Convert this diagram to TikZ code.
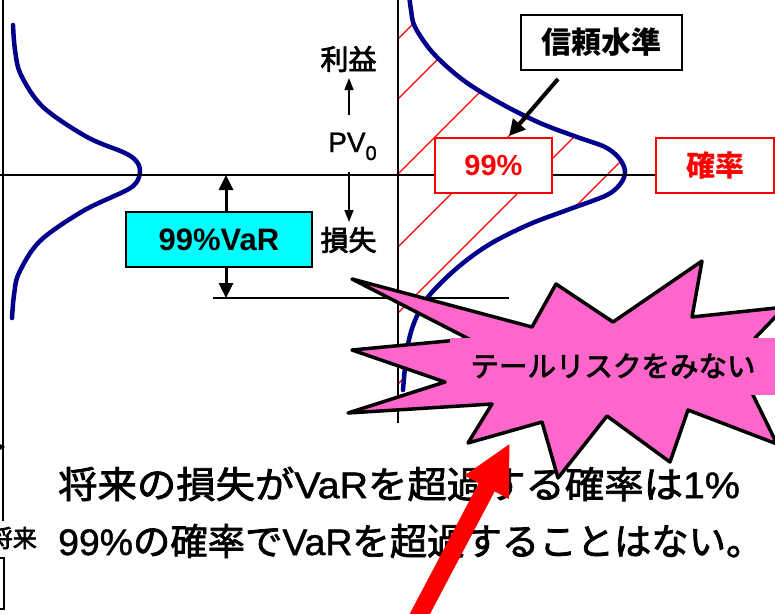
\documentclass[tikz,border=0pt]{standalone}
\usepackage{fontspec}
\setmainfont{Liberation Sans}
\newfontfamily\jp{Noto Sans CJK JP}
\newfontfamily\jpm{Noto Sans CJK JP}[FakeBold=2]
\newfontfamily\jpb{Noto Sans CJK JP}[FakeBold=2.8]
\newfontfamily\latm{Liberation Sans}[FakeBold=1.2]
\usetikzlibrary{arrows.meta,calc}
\definecolor{navy}{RGB}{0,0,139}
\definecolor{vcyan}{RGB}{0,255,255}
\definecolor{starpink}{RGB}{255,102,204}
\tikzset{
  axis/.style={line width=1.5pt, black},
  bell/.style={line width=4.5pt, draw=navy, line cap=round, line join=round},
  hatch/.style={line width=1.2pt, red},
  thinarrow/.style={line width=1.5pt, -{Triangle[length=12pt,width=9pt]}},
  vararrow/.style={line width=3pt, -{Triangle[length=15pt,width=14pt]}},
  callarrow/.style={line width=4pt, -{Triangle[length=16pt,width=16pt]}},
  bigarrow/.style={line width=18pt, red, -{Triangle[length=50pt,width=46pt]}},
  redbox/.style={draw=red, line width=2pt, fill=white, minimum height=55pt, inner sep=0pt, text=red},
  blackbox/.style={draw=black, line width=2pt, fill=white, minimum height=55pt, inner sep=0pt},
  label/.style={inner sep=0pt, font=\fontsize{28}{28}\selectfont\jpb},
  bottomtext/.style={inner sep=0pt, anchor=west, font=\fontsize{37}{37}\selectfont\latm},
}
\begin{document}
\begin{tikzpicture}[x=1pt,y=-1pt]
\path[use as bounding box] (0,0) rectangle (775,613);
\clip (0,0) rectangle (775,613);
\fill[white] (0,0) rectangle (775,613);

% hatching between right axis and right curve
\begin{scope}
\clip plot[smooth, tension=0.55] coordinates {(409,-6) (411,10) (415,27) (433,53) (463,80) (500,103) (540,123) (577,137) (605,147) (619,158) (625,171) (621,183) (607,195) (570,209) (530,224) (490,244) (457,268) (428,297) (414,323) (407,350) (403,390)} -- (398,390) -- (398,-6) -- cycle;
\foreach \c in {437,497,572,645,711,782}
  \draw[hatch] ({\c+20},-20) -- ({\c-440},440);
\end{scope}

% axes
\coordinate (lax1) at (3,0);
\coordinate (lax2) at (3,521);
\coordinate (rax1) at (398,0);
\coordinate (rax2) at (398,423);
\coordinate (hz1) at (0,175);
\coordinate (var1) at (213,298);
\coordinate (var2) at (509,298);
\draw[axis] (lax1) -- (lax2);
\draw[axis] (rax1) -- (rax2);
\draw[axis] (var1) -- (var2);

% small arrow tip at left axis
\coordinate (la1) at (-12,447);
\coordinate (la2) at (5,447);
\draw[line width=1pt, -{Triangle[length=7pt,width=8pt]}] (la1) -- (la2);

% bell curves
\draw[bell] plot[smooth, tension=0.55] coordinates {(13,25) (15,50) (21,75) (43,107) (87,137) (125,153) (137,162) (140,172) (136,183) (125,191) (83,211) (40,241) (19,273) (14,295) (12,318)};
\draw[bell] plot[smooth, tension=0.55] coordinates {(409,-6) (411,10) (415,27) (433,53) (463,80) (500,103) (540,123) (577,137) (605,147) (619,158) (625,171) (621,183) (607,195) (570,209) (530,224) (490,244) (457,268) (428,297) (414,323) (407,350) (403,390)};

% boxes
\node[redbox, minimum width=118pt, font=\fontsize{29}{29}\selectfont\jp\bfseries] (prob) at (715,165.5) {確率};
\draw[axis] (hz1) -- (hz1 -| prob.west);
\node[redbox, minimum width=117pt, font=\fontsize{29}{29}\selectfont\bfseries] (p99) at (493.5,165.5) {99\%};
\node[blackbox, minimum width=161pt, font=\fontsize{30}{30}\selectfont\jp\bfseries] (trust) at (601.5,42.5) {信頼水準};
\draw[callarrow] ($(trust.south)+(-43.5,8)$) -- ($(p99.north)+(15.5,-1)$);

% VaR box and arrows
\node[draw=black, line width=1.5pt, fill=vcyan, minimum width=186pt, minimum height=55pt, inner sep=0pt, font=\fontsize{31}{31}\selectfont\bfseries] (varbox) at (219,239.5) {99\%VaR};
\coordinate (vtop) at (226,175);
\coordinate (vbot) at (226,298);
\draw[vararrow] (varbox.north -| vtop) -- (vtop);
\draw[vararrow] (varbox.south -| vbot) -- (vbot);

% profit / loss labels
\node[label] (gain) at (348.5,59) {利益};
\node[label] (loss) at (348.5,240) {損失};
\node[inner sep=0pt, anchor=base west, font=\fontsize{28}{28}\selectfont\latm] (pv) at (328,152) {PV\raisebox{-8pt}{\fontsize{20}{20}\selectfont 0}};
\coordinate (up1) at (349,115);
\coordinate (up2) at (349,78);
\coordinate (dn1) at (349,172);
\coordinate (dn2) at (349,222);
\draw[thinarrow] (up1) -- (up2);
\draw[thinarrow] (dn1) -- (dn2);

% left cut-off elements
\node[inner sep=0pt, anchor=east, font=\fontsize{24}{24}\selectfont\jpb] (future) at (37,538) {将来};
\node[draw=black, line width=1.5pt, minimum width=60pt, minimum height=51pt, inner sep=0pt] (leftbox) at (-26,583.5) {};

% bottom sentences
\node[bottomtext] (line1) at (58,484) {\scalebox{1.064}[1]{{\jpm 将来の損失が}VaR{\jpm を超過する確率は}1\%}};
\node[bottomtext] (line2) at (58,541) {\scalebox{1.01}[1]{99\%{\jpm の確率で}VaR{\jpm を超過することはない。}}};

% star
\filldraw[fill=starpink, draw=black, line width=3.5pt, line join=round] (352,279) -- (532,327) -- (556,284) -- (613,322) -- (702,261) -- (692,317) -- (785,307) -- (755,338) -- (805,366) -- (752,393) -- (777,444) -- (688,410) -- (670,462) -- (607,416) -- (558,478) -- (542,422) -- (468,443) -- (492,404) -- (348,413) -- (445,382) -- (352,350) -- (469,339) -- cycle;
\node[fill=starpink, minimum width=326pt, minimum height=57pt, inner sep=0pt, font=\fontsize{28.5}{28.5}\selectfont\jpb] (tail) at (613,366) {テールリスクをみない};

% red arrow
\coordinate (redtail) at (414,625);
\coordinate (redtip) at (510,443);
\draw[bigarrow] (redtail) -- (redtip);
\end{tikzpicture}
\end{document}
